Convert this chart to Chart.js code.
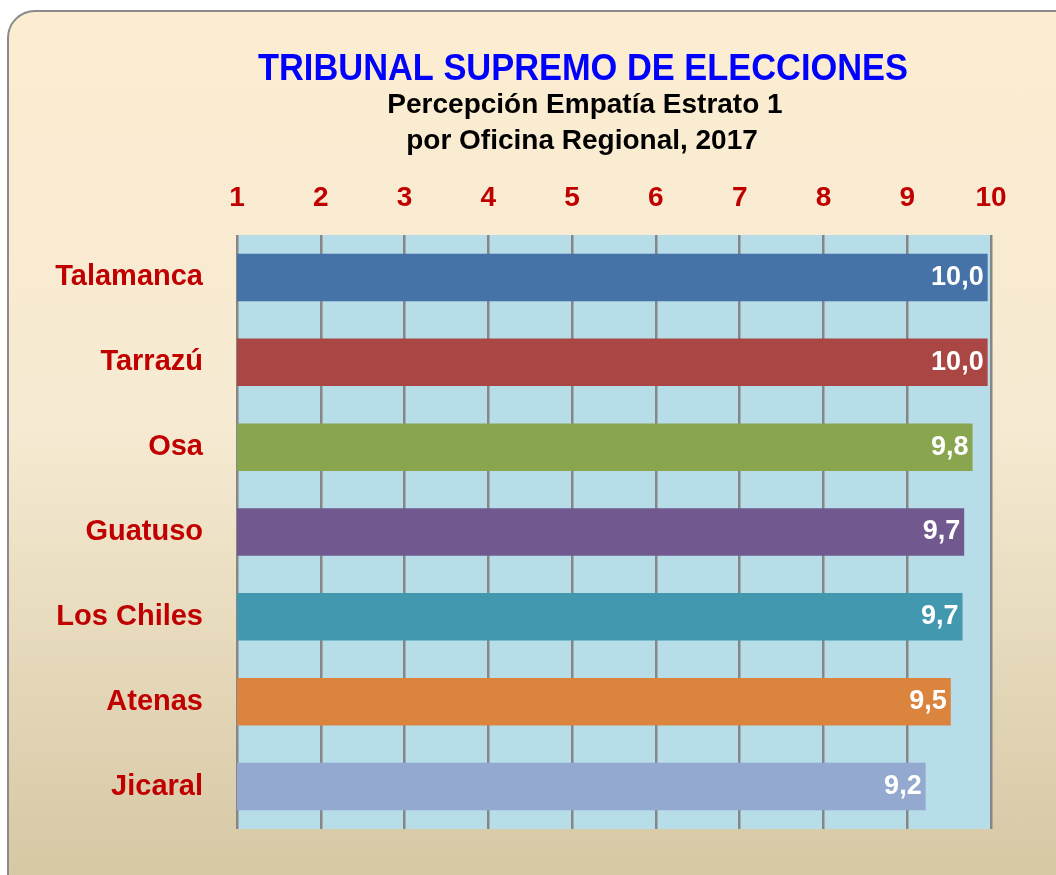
<!DOCTYPE html>
<html>
<head>
<meta charset="utf-8">
<script src="https://cdn.jsdelivr.net/npm/chart.js@4"></script>
<style>
  body { margin: 0; background: #ffffff; overflow: hidden; }
  #frame {
    position: absolute; left: 7px; top: 10px; width: 1100px; height: 920px;
    border: 2px solid #8a8a8a; border-radius: 28px;
    background: linear-gradient(#fcedd1, #f6ead2 45%, #d2c49f);
  }
  #chart { position: absolute; left: 0; top: 0; }
</style>
</head>
<body>
<div id="frame"></div>
<canvas id="chart" width="1056" height="875"></canvas>
<script>
// data
const oficinas = ['Talamanca', 'Tarrazú', 'Osa', 'Guatuso', 'Los Chiles', 'Atenas', 'Jicaral'];
const empatia = [9.96, 9.96, 9.78, 9.68, 9.66, 9.52, 9.22];
const colores = ['#4572a7', '#aa4643', '#89a54e', '#71588f', '#4198af', '#db843d', '#93a9cf'];
const ticksX = [1, 2, 3, 4, 5, 6, 7, 8, 9, 10];

const titulo = 'TRIBUNAL SUPREMO DE ELECCIONES';
const subtitulo = ['Percepción Empatía Estrato 1', 'por Oficina Regional, 2017'];

const FONT = '"Liberation Sans", Arial, sans-serif';

// light blue plot background
const plotBg = {
    id: 'plotBg',
    beforeDraw(chart) {
        const a = chart.chartArea;
        const ctx = chart.ctx;
        ctx.save();
        ctx.fillStyle = '#b7dde8';
        ctx.fillRect(a.left, a.top, a.right - a.left, a.bottom - a.top);
        ctx.restore();
    }
};

// titles (condensed like the original)
const titles = {
    id: 'titles',
    afterDraw(chart) {
        const ctx = chart.ctx;
        ctx.save();
        ctx.textAlign = 'center';
        ctx.textBaseline = 'alphabetic';
        ctx.fillStyle = '#0000ff';
        ctx.font = 'bold 36px ' + FONT;
        ctx.fillText(titulo, 583, 80, 650);
        ctx.fillStyle = '#000000';
        ctx.font = 'bold 28px ' + FONT;
        ctx.fillText(subtitulo[0], 585, 113, 410);
        ctx.fillText(subtitulo[1], 582, 149, 366);
        ctx.restore();
    }
};

// value labels inside bar ends
const valueLabels = {
    id: 'valueLabels',
    afterDatasetsDraw(chart) {
        const ctx = chart.ctx;
        const meta = chart.getDatasetMeta(0);
        ctx.save();
        ctx.fillStyle = '#ffffff';
        ctx.font = 'bold 27px ' + FONT;
        ctx.textAlign = 'right';
        ctx.textBaseline = 'middle';
        meta.data.forEach((bar, i) => {
            const txt = empatia[i].toFixed(1).replace('.', ',');
            ctx.fillText(txt, bar.x - 4, bar.y);
        });
        ctx.restore();
    }
};

const ctx = document.getElementById('chart').getContext('2d');

const chart = new Chart(ctx, {
    type: 'bar',
    data: {
        labels: oficinas,
        datasets: [{
            data: empatia,
            backgroundColor: colores,
            borderWidth: 0,
            barPercentage: 0.56,
            categoryPercentage: 1
        }]
    },
    options: {
        indexAxis: 'y',
        responsive: false,
        animation: false,
        devicePixelRatio: 1,
        layout: { padding: { left: 0, right: 65, top: 170, bottom: 46 } },
        plugins: {
            legend: { display: false },
            tooltip: { enabled: false }
        },
        scales: {
            x: {
                position: 'top',
                min: 1,
                max: 10,
                afterBuildTicks(scale) {
                    scale.ticks = ticksX.map(v => ({ value: v }));
                },
                afterFit(scale) {
                    scale.height = 65;
                    scale.paddingLeft = 0;
                    scale.paddingRight = 0;
                },
                grid: { color: '#868686', lineWidth: 2.5, drawTicks: false },
                border: { display: false },
                ticks: {
                    padding: 20,
                    color: '#c00000',
                    font: { family: FONT, size: 28, weight: 'bold' }
                }
            },
            y: {
                afterFit(scale) {
                    scale.width = 237;
                    scale.paddingTop = 0;
                    scale.paddingBottom = 0;
                },
                grid: { display: false, drawTicks: false },
                border: { display: false },
                ticks: {
                    padding: 34,
                    color: '#c00000',
                    font: { family: FONT, size: 29, weight: 'bold' }
                }
            }
        }
    },
    plugins: [plotBg, titles, valueLabels]
});
</script>
</body>
</html>
